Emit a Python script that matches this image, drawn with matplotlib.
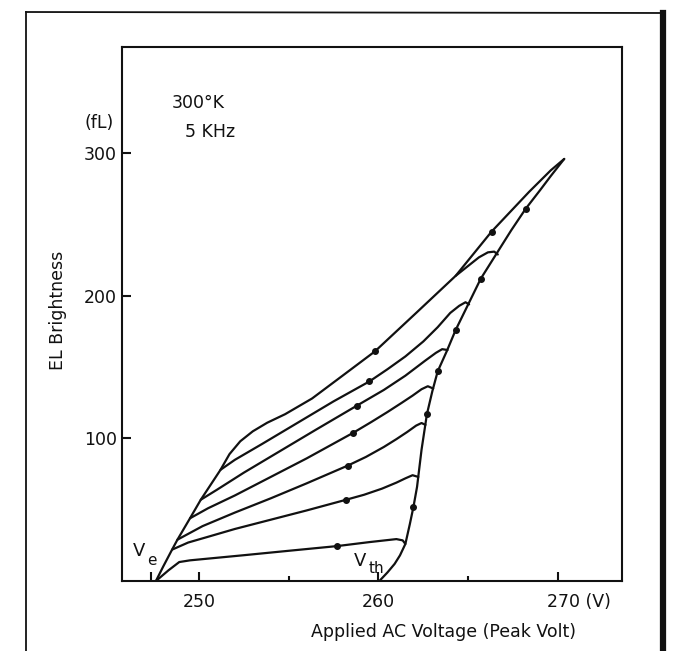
import matplotlib
matplotlib.use("Agg")
import matplotlib.pyplot as plt
from matplotlib.lines import Line2D
from matplotlib.transforms import blended_transform_factory

# outer edge of the largest loop: from its tip back down to Ve
top_v = [270.35, 269.6, 268.4, 266.3, 264.3, 262.1, 259.8, 258.0, 256.3, 254.8,
         253.8, 253.0, 252.3, 251.7, 251.2, 250.1, 249.5, 248.8, 248.5, 248.0, 247.6]
top_b = [296, 288, 273, 245, 214, 188, 161, 144, 128, 117,
         111, 105, 98, 89, 78, 57, 44, 29, 22, 10, 0]

# rising branch, from Vth up to the tip
rise_v = [260.05, 260.5, 260.9, 261.2, 261.5, 261.75, 261.95, 262.15, 262.4, 262.7,
          263.0, 263.3, 263.8, 264.3, 265.0, 265.7, 266.6, 267.4, 268.2, 269.0,
          269.6, 270.1, 270.35]
rise_b = [0, 6, 12, 18, 26, 40, 52, 66, 92, 117,
          133, 147, 161, 176, 194, 212, 230, 246, 261, 274,
          284, 292, 296]

# second loop, joins the outer edge at 264 V
loop2_v = [266.65, 266.45, 266.1, 265.6, 265.0, 264.3]
loop2_b = [229, 231, 230.5, 227, 221, 214]

# smaller loops (decreasing branches), each ends on the outer edge
f1_v = [265.05, 264.85, 264.5, 264.0, 263.3, 262.5, 261.5, 260.5, 259.5, 257.5,
        255.5, 253.5, 252.0, 251.2]
f1_b = [194, 195.5, 193, 188, 178, 168, 157.5, 148.5, 140, 126,
        111, 96, 85, 78]

f2_v = [263.85, 263.55, 263.2, 262.6, 261.5, 260.3, 258.8, 256.5, 254.5, 252.5,
        251.0, 250.1]
f2_b = [162, 162.6, 160, 154.5, 144, 134, 123, 106, 91, 76,
        64, 57]

f3_v = [263.05, 262.75, 262.4, 261.9, 261.3, 260.5, 259.6, 258.6, 256.0, 254.0,
        252.0, 250.5, 249.5]
f3_b = [135, 136.6, 134.5, 130, 125, 118.5, 111.5, 104, 86, 73,
        60, 51, 44]

f4_v = [262.62, 262.4, 262.1, 261.6, 261.0, 260.3, 259.3, 258.3, 256.0, 254.0,
        252.0, 250.2, 248.8]
f4_b = [109.5, 110.8, 109, 104.5, 99.5, 94, 87, 81, 68.5, 58,
        48, 38.5, 29]

f5_v = [262.22, 261.9, 261.5, 261.0, 260.2, 259.2, 258.2, 256.0, 254.0, 252.0,
        250.5, 249.4, 248.5]
f5_b = [73, 74.2, 72, 69, 64.8, 60.5, 57, 49.5, 43, 36.5,
        31, 27, 22]

f6_v = [261.5, 261.35, 261.0, 259.5, 257.7, 255.0, 252.5, 250.5, 249.5, 248.9, 248.3, 247.6]
f6_b = [26, 28.5, 29.4, 27.3, 24.5, 21.2, 18.1, 15.7, 14.5, 13.3, 7.5, 0]

# arrow dots along the curves
dots_v = [259.8, 266.3, 259.5, 258.8, 258.6, 258.3, 258.2, 257.7,
          261.95, 262.7, 263.3, 264.3, 265.7, 268.2]
dots_b = [161, 245, 140, 123, 104, 81, 57, 24.5,
          52, 117, 147, 176, 212, 261]

xticks = [247.3, 250, 260, 270]
xticklabels = ['', '250', '260', '']
xminor = [255, 265]
yticks = [100, 200, 300]

ink = '#111111'
lw = 1.6

fig = plt.figure(figsize=(6.8, 6.51), dpi=100)
ax = fig.add_axes([0.1794, 0.1075, 0.7353, 0.8203])

curves = [(top_v, top_b), (rise_v, rise_b), (loop2_v, loop2_b),
          (f1_v, f1_b), (f2_v, f2_b), (f3_v, f3_b),
          (f4_v, f4_b), (f5_v, f5_b), (f6_v, f6_b)]
for v, b in curves:
    ax.plot(v, b, color=ink, linewidth=lw, solid_capstyle='round', solid_joinstyle='round')
ax.plot(dots_v, dots_b, linestyle='none', marker='o', markersize=4, color=ink)

ax.set_xlim(245.71, 273.57)
ax.set_ylim(0, 374.5)

for s in ax.spines.values():
    s.set_linewidth(1.5)
    s.set_color(ink)

ax.set_xticks(xticks)
ax.set_xticklabels(xticklabels)
ax.set_xticks(xminor, minor=True)
ax.set_yticks(yticks)
ax.tick_params(axis='both', which='major', direction='in', length=6.5, width=1.5,
               color=ink, labelsize=12.5, labelcolor=ink)
ax.tick_params(axis='x', which='minor', direction='in', length=3.6, width=1.5, color=ink)
ax.tick_params(axis='x', which='major', pad=8.5)
ax.tick_params(axis='y', which='major', pad=3.5)

xt = blended_transform_factory(ax.transData, ax.transAxes)
ax.text(269.39, -0.0225, '270 (V)', transform=xt, ha='left', va='top',
        fontsize=12.5, color=ink)

ax.set_xlabel('Applied AC Voltage (Peak Volt)', fontsize=12.5, color=ink)
ax.xaxis.set_label_coords(0.644, -0.079)
ax.set_ylabel('EL Brightness', fontsize=12.5, color=ink)
ax.yaxis.set_label_coords(-0.11, 0.507)

ax.text(-0.045, 0.857, '(fL)', transform=ax.transAxes, ha='center', va='center',
        fontsize=12.5, color=ink)
ax.text(0.10, 0.895, '300°K', transform=ax.transAxes, ha='left', va='center',
        fontsize=12.5, color=ink)
ax.text(0.126, 0.840, '5 KHz', transform=ax.transAxes, ha='left', va='center',
        fontsize=12.5, color=ink)

# Ve and Vth labels
ax.text(246.66, 21, 'V', ha='center', va='center', fontsize=13, color=ink)
ax.text(247.38, 14.7, 'e', ha='center', va='center', fontsize=11, color=ink)
ax.text(259.0, 14, 'V', ha='center', va='center', fontsize=13, color=ink)
ax.text(259.86, 9.1, 'th', ha='center', va='center', fontsize=11, color=ink)

# the scanned page frame around the figure
W, H = 680.0, 651.0
fig.add_artist(Line2D([26 / W, 663 / W], [1 - 12 / H, 1 - 13 / H],
                      transform=fig.transFigure, color=ink, linewidth=1.3))
fig.add_artist(Line2D([26 / W, 26 / W], [1 - 12 / H, 0],
                      transform=fig.transFigure, color=ink, linewidth=1.3))
fig.add_artist(Line2D([663 / W, 663 / W], [1 - 13 / H, 0],
                      transform=fig.transFigure, color=ink, linewidth=4.5))

fig.savefig('out.png', dpi=100)
